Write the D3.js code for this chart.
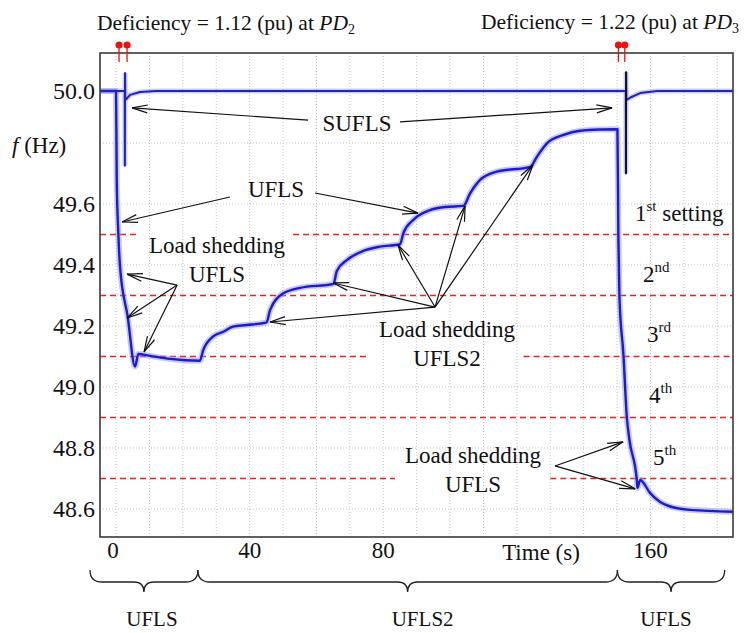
<!DOCTYPE html>
<html>
<head>
<meta charset="utf-8">
<script src="https://cdn.jsdelivr.net/npm/d3@7"></script>
<style>
  body { margin: 0; background: #fff; }
  svg { display: block; font-family: "Liberation Serif", "Times New Roman", serif; }
</style>
</head>
<body>
<div id="chart"></div>
<script>
// UFLS / UFLS2 frequency trace (time in s, f in Hz)
var uflsTime = [-4.8, 0, 0.21, 0.69, 1.2, 3.5, 5.69, 6.68, 10.2, 16.2, 25.1, 26.1, 29.0, 32.1, 35.0, 39.1,
  45.1, 46.1, 50.1, 55.1, 65.1, 66.1, 69.1, 74.0, 79.0, 85.0, 86.0, 89.0, 94.0, 98.5, 104.0, 106.0,
  109.0, 114.0, 124.0, 126.0, 129.0, 134.0, 138.9, 144.9, 150.1, 150.4, 150.7, 151.9, 152.9, 153.7,
  155.9, 156.1, 156.9, 159.9, 162.9, 165.9, 171.9, 184.7];
var uflsFreq = [50.0, 50.0, 49.679, 49.505, 49.394, 49.230, 49.067, 49.108, 49.102, 49.092, 49.086, 49.121,
  49.165, 49.181, 49.198, 49.203, 49.212, 49.252, 49.307, 49.325, 49.338, 49.380, 49.416, 49.446, 49.460,
  49.468, 49.504, 49.548, 49.580, 49.590, 49.594, 49.635, 49.679, 49.706, 49.722, 49.755, 49.799, 49.831,
  49.847, 49.852, 49.853, 49.482, 49.296, 49.105, 48.903, 48.826, 48.695, 48.669, 48.695, 48.652, 48.623,
  48.608, 48.597, 48.591];

// SUFLS trace: stays at 50 Hz apart from two switching spikes
var suflsTime = [-4.8, 2.6, 2.65, 2.7, 2.8, 4.2, 7.2, 12, 152.6, 152.65, 152.7, 152.8, 154.0, 156.9, 162.0, 184.7];
var suflsFreq = [50.0, 50.0, 49.725, 50.069, 49.965, 49.985, 49.996, 50.0, 50.0, 49.70, 50.073, 49.965, 49.975,
  49.992, 50.0, 50.0];

// the second SUFLS spike is drawn darker in the figure
var spikeTime = [152.7, 152.7];
var spikeFreq = [50.073, 49.70];

// UFLS setting thresholds (Hz)
var settingLevels = [49.5, 49.3, 49.1, 48.9, 48.7];
var settingNames = ["1", "2", "3", "4", "5"];
var settingSups = ["st", "nd", "rd", "th", "th"];

// disturbance instants (red pins)
var pinTimes = [0.9, 3.3, 150.4, 152.3];

var yTickValues = [50.0, 49.6, 49.4, 49.2, 49.0, 48.8, 48.6];
var xTickValues = [0, 40, 80, 160];

// phases marked with braces under the time axis
var phaseStart = [-7.8, 24.5, 150.1];
var phaseEnd = [24.5, 150.1, 182.2];
var phaseNames = ["UFLS", "UFLS2", "UFLS"];

var width = 744, height = 633;
var plotLeft = 100, plotRight = 733, plotTop = 53, plotBottom = 537;

var svg = d3.select("#chart").append("svg")
  .attr("width", width)
  .attr("height", height);

var x = d3.scaleLinear().domain([-4.8, 184.7]).range([plotLeft, plotRight]);
// the figure's axis is squeezed above 49.8 Hz
var y = d3.scaleLinear().domain([48.508, 49.8, 50.146]).range([plotBottom, 143, plotTop]);

// grid
var grid = svg.append("g").attr("stroke", "#c4c4c4").attr("stroke-width", 1).attr("stroke-dasharray", "1,2");
grid.selectAll(".gx").data(d3.range(0, 181, 10)).enter().append("line")
  .attr("x1", d => x(d)).attr("x2", d => x(d)).attr("y1", plotTop).attr("y2", plotBottom);
grid.selectAll(".gy").data(d3.range(48.6, 49.81, 0.2)).enter().append("line")
  .attr("x1", plotLeft).attr("x2", plotRight).attr("y1", d => y(d)).attr("y2", d => y(d));

// red dashed setting lines, interrupted where the labels sit
var gaps = { "49.5": [6.3, 53], "49.1": [76, 122], "48.7": [83.5, 130] };
var redLines = svg.append("g").attr("stroke", "#e8231f").attr("stroke-width", 1.4).attr("stroke-dasharray", "6,4");
settingLevels.forEach(function (lv) {
  var g = gaps[String(lv)];
  var segs = g ? [[x.domain()[0], g[0]], [g[1], x.domain()[1]]] : [x.domain()];
  segs.forEach(function (s) {
    redLines.append("line")
      .attr("x1", x(s[0])).attr("x2", x(s[1]))
      .attr("y1", y(lv)).attr("y2", y(lv));
  });
});

// traces
var uflsData = uflsTime.map((t, i) => ({ t: t, f: uflsFreq[i] }));
var suflsData = suflsTime.map((t, i) => ({ t: t, f: suflsFreq[i] }));
var spikeData = spikeTime.map((t, i) => ({ t: t, f: spikeFreq[i] }));

var smooth = d3.line().x(d => x(d.t)).y(d => y(d.f)).curve(d3.curveMonotoneX);
var straight = d3.line().x(d => x(d.t)).y(d => y(d.f));

svg.append("path").attr("d", straight(suflsData))
  .attr("fill", "none").attr("stroke", "#8f96f0").attr("stroke-opacity", 0.45).attr("stroke-width", 5);
svg.append("path").attr("d", smooth(uflsData))
  .attr("fill", "none").attr("stroke", "#8f96f0").attr("stroke-opacity", 0.5).attr("stroke-width", 6)
  .attr("stroke-linejoin", "round");
svg.append("path").attr("d", smooth(uflsData))
  .attr("fill", "none").attr("stroke", "#1c1cc8").attr("stroke-width", 2.4).attr("stroke-linejoin", "round");
svg.append("path").attr("d", straight(suflsData))
  .attr("fill", "none").attr("stroke", "#2323b4").attr("stroke-width", 2).attr("stroke-linejoin", "round");
svg.append("path").attr("d", straight(spikeData))
  .attr("fill", "none").attr("stroke", "#111").attr("stroke-width", 1.8);

// frame
svg.append("rect")
  .attr("x", plotLeft).attr("y", plotTop).attr("width", plotRight - plotLeft).attr("height", plotBottom - plotTop)
  .attr("fill", "none").attr("stroke", "#3a3a3a").attr("stroke-width", 1.6);

// red pins at the disturbances
var pins = svg.append("g");
pins.selectAll("line").data(pinTimes).enter().append("line")
  .attr("x1", d => x(d)).attr("x2", d => x(d)).attr("y1", 45).attr("y2", 62)
  .attr("stroke", "#f01010").attr("stroke-width", 1.3);
pins.selectAll("circle").data(pinTimes).enter().append("circle")
  .attr("cx", d => x(d)).attr("cy", 45).attr("r", 3.6).attr("fill", "#f01010");

// y tick labels
svg.append("g").selectAll("text").data(yTickValues).enter().append("text")
  .attr("x", 95).attr("y", d => y(d) + 8)
  .attr("text-anchor", "end").attr("font-size", 24).attr("fill", "#111")
  .text(d => d.toFixed(1));

// x tick labels
svg.append("g").selectAll("text").data(xTickValues).enter().append("text")
  .attr("x", d => x(d) - (d === 0 ? 3 : 0)).attr("y", 558)
  .attr("text-anchor", "middle").attr("font-size", 23).attr("fill", "#111")
  .text(d => d);

svg.append("text").attr("x", 541).attr("y", 560).attr("text-anchor", "middle")
  .attr("font-size", 23).attr("fill", "#111").text("Time (s)");

var yl = svg.append("text").attr("x", 12).attr("y", 153).attr("font-size", 23).attr("fill", "#111");
yl.append("tspan").attr("font-style", "italic").text("f");
yl.append("tspan").text(" (Hz)");

// titles
function title(xp, yp, value, sub) {
  var t = svg.append("text").attr("x", xp).attr("y", yp).attr("font-size", 21.5).attr("fill", "#111");
  t.append("tspan").text("Deficiency = " + value + " (pu) at ");
  t.append("tspan").attr("font-style", "italic").text("PD");
  t.append("tspan").attr("font-size", 14).attr("dy", 4).text(sub);
}
title(97, 30, "1.12", "2");
title(481, 29, "1.22", "3");

// setting labels
var settingLabelX = [635, 643, 647, 649, 653];
var settingLabelY = [221, 282, 342, 403, 465];
settingNames.forEach(function (n, i) {
  var t = svg.append("text").attr("x", settingLabelX[i]).attr("y", settingLabelY[i])
    .attr("font-size", 23).attr("fill", "#111");
  t.append("tspan").text(n);
  t.append("tspan").attr("font-size", 15).attr("dy", -10).text(settingSups[i]);
  if (i === 0) t.append("tspan").attr("dy", 10).text(" setting");
});

// annotation text
function label(cx, by, lines) {
  lines.forEach(function (s, i) {
    svg.append("text").attr("x", cx).attr("y", by + i * 29).attr("text-anchor", "middle")
      .attr("font-size", 23).attr("fill", "#111").text(s);
  });
}
label(357, 131, ["SUFLS"]);
label(276, 197, ["UFLS"]);
label(217, 253, ["Load shedding", "UFLS"]);
label(447, 337, ["Load shedding", "UFLS2"]);
label(473, 463, ["Load shedding", "UFLS"]);

// arrows, in data coordinates [t0, f0, t1, f1]
var arrows = [
  [57.5, 49.888, 4.8, 49.935], [85.0, 49.881, 148.5, 49.935],
  [34.1, 49.623, 1.8, 49.541], [59.6, 49.636, 90.4, 49.570],
  [18.3, 49.334, 3.3, 49.370], [18.3, 49.334, 3.3, 49.226], [18.3, 49.334, 8.4, 49.115],
  [95.5, 49.262, 46.1, 49.213], [95.5, 49.262, 65.0, 49.341], [95.5, 49.262, 84.4, 49.466],
  [95.5, 49.262, 104.5, 49.594], [95.5, 49.262, 124.8, 49.728],
  [131.4, 48.741, 151.8, 48.820], [131.4, 48.741, 155.4, 48.666]
];
var ag = svg.append("g").attr("stroke", "#111").attr("stroke-width", 1.2).attr("fill", "none");
arrows.forEach(function (a) {
  var x1 = x(a[0]), y1 = y(a[1]), x2 = x(a[2]), y2 = y(a[3]);
  var ang = Math.atan2(y2 - y1, x2 - x1), len = 16, spread = 0.25;
  ag.append("line").attr("x1", x1).attr("y1", y1).attr("x2", x2).attr("y2", y2);
  [-spread, spread].forEach(function (s) {
    ag.append("line").attr("x1", x2).attr("y1", y2)
      .attr("x2", x2 - len * Math.cos(ang + s)).attr("y2", y2 - len * Math.sin(ang + s));
  });
});

// braces under the time axis
var bg = svg.append("g").attr("stroke", "#222").attr("stroke-width", 1.3).attr("fill", "none");
phaseNames.forEach(function (name, i) {
  var x1 = x(phaseStart[i]), x2 = x(phaseEnd[i]), xm = (x1 + x2) / 2;
  var p = d3.path();
  p.moveTo(x1, 570);
  p.quadraticCurveTo(x1, 582, x1 + 12, 582);
  p.lineTo(xm - 10, 582);
  p.quadraticCurveTo(xm, 582, xm, 592);
  p.quadraticCurveTo(xm, 582, xm + 10, 582);
  p.lineTo(x2 - 12, 582);
  p.quadraticCurveTo(x2, 582, x2, 570);
  bg.append("path").attr("d", p.toString());
  svg.append("text").attr("x", xm + [8, 15, -5][i]).attr("y", 626).attr("text-anchor", "middle")
    .attr("font-size", 21).attr("fill", "#111").text(name);
});
</script>
</body>
</html>
